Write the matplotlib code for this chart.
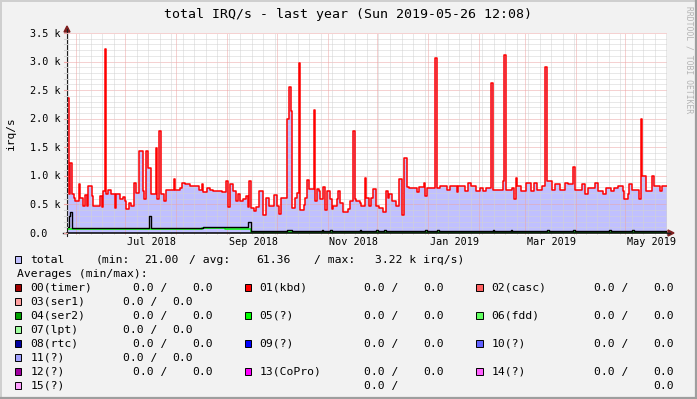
import datetime as dt
import matplotlib
matplotlib.use("Agg")
import matplotlib.pyplot as plt
import matplotlib.dates as mdates
from matplotlib.patches import Rectangle, Polygon
from matplotlib.lines import Line2D
from matplotlib.transforms import blended_transform_factory
import numpy as np

# ---------------- data ----------------
START = dt.datetime(2018, 5, 26, 12, 8)
SPAN_DAYS = 365

# total IRQ/s (step series: day offset from START, value)
total_day = [0, 1, 2, 3, 4, 5, 7, 8, 10, 11, 12, 13, 15, 16, 20, 21, 22, 23, 24, 25,
             27, 29, 30, 32, 34, 35, 36, 38, 39, 41, 42, 44, 46, 47, 48, 49, 51, 54, 55, 56,
             57, 59, 60, 65, 66, 69, 70, 72, 75, 77, 80, 82, 83, 85, 87, 89, 94, 97, 98, 99,
             101, 103, 104, 105, 107, 109, 110, 111, 112, 114, 115, 117, 119, 121, 123, 126, 128, 129, 130, 134,
             135, 136, 137, 139, 140, 141, 142, 144, 145, 146, 147, 150, 151, 152, 153, 154, 156, 157, 158, 160,
             161, 162, 164, 165, 166, 168, 171, 172, 174, 175, 176, 178, 179, 181, 182, 184, 185, 186, 188, 190,
             192, 194, 195, 196, 198, 200, 202, 204, 205, 207, 208, 213, 214, 217, 218, 219, 224, 225, 227, 231,
             233, 237, 238, 242, 244, 246, 249, 251, 253, 255, 258, 259, 265, 266, 267, 271, 272, 273, 274, 276,
             279, 282, 284, 286, 289, 291, 292, 295, 297, 300, 303, 305, 308, 309, 313, 315, 317, 321, 323, 326,
             328, 331, 333, 335, 338, 339, 341, 342, 344, 348, 349, 350, 352, 356, 357, 361, 362]
total_val = [2370, 680, 1230, 680, 620, 560, 850, 620, 480, 660, 480, 820, 650, 480, 650, 450, 730, 3220, 680, 750,
             680, 440, 680, 590, 630, 560, 420, 520, 470, 880, 700, 1440, 730, 590, 1440, 1130, 690, 1480, 590, 1780,
             680, 560, 750, 940, 750, 790, 880, 850, 820, 830, 760, 850, 720, 790, 750, 740, 720, 910, 460, 850,
             730, 560, 680, 560, 590, 650, 460, 910, 440, 380, 460, 730, 320, 620, 470, 660, 470, 330, 620, 2000,
             2560, 2140, 440, 620, 700, 2980, 410, 490, 620, 930, 770, 2160, 560, 770, 740, 590, 800, 400, 740, 590,
             420, 470, 590, 740, 530, 370, 420, 560, 1780, 590, 560, 530, 470, 970, 620, 470, 610, 770, 470, 440,
             360, 740, 610, 680, 560, 470, 950, 310, 1320, 800, 790, 720, 800, 880, 650, 790, 3070, 790, 820, 760,
             820, 710, 820, 740, 880, 820, 740, 790, 740, 790, 2620, 750, 910, 3120, 750, 790, 600, 970, 820, 740,
             880, 740, 880, 760, 820, 2900, 910, 750, 850, 750, 880, 850, 1160, 750, 850, 680, 790, 880, 740, 680,
             790, 740, 790, 820, 740, 590, 680, 850, 760, 590, 2000, 1000, 740, 1000, 820, 740, 820]

# black line near the bottom
black_day = [0, 1, 2, 3, 50, 51, 83, 90, 97, 110, 112, 134, 137, 155, 156, 160, 161, 178, 179, 188,
             189, 193, 194, 218, 219, 225, 226, 259, 260, 270, 271, 292, 293, 308, 309, 330, 331, 344, 345]
black_val = [110, 300, 370, 95, 290, 95, 110, 100, 110, 185, 35, 50, 35, 50, 35, 50, 35, 50, 35, 50,
             35, 50, 35, 50, 35, 50, 35, 50, 35, 50, 35, 50, 35, 50, 35, 50, 35, 50, 35]

# bright green line near the bottom
green_day = [0, 82, 96, 112]
green_val = [75, 95, 75, 18]

y_ticks = [0, 500, 1000, 1500, 2000, 2500, 3000, 3500]
y_tick_labels = ["0.0", "0.5 k", "1.0 k", "1.5 k", "2.0 k", "2.5 k", "3.0 k", "3.5 k"]
x_labels = ["Jul 2018", "Sep 2018", "Nov 2018", "Jan 2019", "Mar 2019", "May 2019"]

total_stats = ("21.00", "61.36", "3.22 k irq/s)")

legend_rows = [
    [("00(timer)", "#A00000"), ("01(kbd)", "#FF0000"), ("02(casc)", "#FF6060")],
    [("03(ser1)", "#FFA0A0")],
    [("04(ser2)", "#00A000"), ("05(?)", "#00FF00"), ("06(fdd)", "#60FF60")],
    [("07(lpt)", "#A0FFA0")],
    [("08(rtc)", "#0000A0"), ("09(?)", "#0000FF"), ("10(?)", "#6060FF")],
    [("11(?)", "#A0A0FF")],
    [("12(?)", "#A000A0"), ("13(CoPro)", "#FF00FF"), ("14(?)", "#FF60FF")],
    [("15(?)", "#FFA0FF")],
]
irq_min = 0.0
irq_max = 0.0

# ---------------- layout helpers ----------------
W, H = 697, 399
MONO = "DejaVu Sans Mono"


def fx(x):
    return x / W


def fy(y):
    return 1 - y / H


fig = plt.figure(figsize=(W / 100, H / 100), dpi=100, facecolor="#F2F2F2")

# 3D shade border
fig.add_artist(Line2D([0, 1], [fy(0.5), fy(0.5)], color="#CFCFCF", lw=1.4, transform=fig.transFigure))
fig.add_artist(Line2D([fx(0.5), fx(0.5)], [0, 1], color="#CFCFCF", lw=1.4, transform=fig.transFigure))
fig.add_artist(Line2D([0, 1], [fy(398), fy(398)], color="#9E9E9E", lw=1.6, transform=fig.transFigure))
fig.add_artist(Line2D([fx(696), fx(696)], [0, 1], color="#9E9E9E", lw=1.6, transform=fig.transFigure))

PLOT_L, PLOT_R, PLOT_T, ZERO_Y, CANVAS_B = 67, 667, 33, 233, 235
ymax = 3500.0
ymin = -ymax * (CANVAS_B - ZERO_Y) / (ZERO_Y - PLOT_T)

ax = fig.add_axes([fx(PLOT_L), fy(CANVAS_B), (PLOT_R - PLOT_L) / W, (CANVAS_B - PLOT_T) / H])
ax.set_facecolor("white")
for s in ax.spines.values():
    s.set_visible(False)

t0 = mdates.date2num(START)


def xs(days):
    return t0 + np.asarray(days, dtype=float)


def step_xy(days, vals):
    d = list(days) + [SPAN_DAYS]
    v = list(vals) + [vals[-1]]
    return xs(d), np.array(v, dtype=float)


tx, tv = step_xy(total_day, total_val)
ax.fill_between(tx, tv, step="post", color="#C0C0FF", lw=0, zorder=1)

# grid
MINOR_C = "#D2D2D2"
MAJOR_C = "#EDA5A5"
dots = (0, (1, 1))
for v in range(100, 3600, 100):
    if v % 500:
        ax.axhline(v, color=MINOR_C, lw=0.72, ls=dots, zorder=2)
for v in y_ticks[1:]:
    ax.axhline(v, color=MAJOR_C, lw=0.72, ls=dots, zorder=2)

end = START + dt.timedelta(days=SPAN_DAYS)
d = dt.datetime(2018, 5, 27)
month_starts = []
m = dt.datetime(START.year, START.month, 1)
while m <= end:
    if m > START:
        month_starts.append(m)
    m = dt.datetime(m.year + (m.month // 12), m.month % 12 + 1, 1)
while d < end:
    if d.day != 1:
        ax.axvline(mdates.date2num(d), color=MINOR_C, lw=0.72, ls=dots, zorder=2)
    d += dt.timedelta(days=7)
for m in month_starts:
    ax.axvline(mdates.date2num(m), color=MAJOR_C, lw=0.72, ls=dots, zorder=2)

# series lines
bx, bv = step_xy(black_day, black_val)
gx, gv = step_xy(green_day, green_val)
ax.step(gx, gv, where="post", color="#00FF00", lw=1.1, zorder=3)
ax.step(bx, bv, where="post", color="#000000", lw=1.0, zorder=3)
ax.step(tx, tv, where="post", color="#FF0000", lw=1.1, zorder=4)

ax.set_xlim(t0, t0 + SPAN_DAYS)
ax.set_ylim(ymin, ymax)
ax.set_xticks([])
ax.set_yticks([])

# axes lines + arrows
AX_C = "#1F1F1F"
ARROW_C = "#7F1F1F"
ax.axhline(0, color="#000000", lw=1.1, zorder=5, clip_on=False)
fig.add_artist(Line2D([fx(PLOT_L), fx(PLOT_L)], [fy(ZERO_Y + 3), fy(29)], color=AX_C, lw=0.8,
                      transform=fig.transFigure))
fig.add_artist(Line2D([fx(63), fx(PLOT_L)], [fy(ZERO_Y), fy(ZERO_Y)], color=AX_C, lw=1.0,
                      transform=fig.transFigure))
fig.add_artist(Line2D([fx(PLOT_R), fx(670)], [fy(ZERO_Y), fy(ZERO_Y)], color=AX_C, lw=1.0,
                      transform=fig.transFigure))
fig.add_artist(Polygon([[fx(64), fy(32)], [fx(70), fy(32)], [fx(67), fy(26)]], closed=True,
                       color=ARROW_C, transform=fig.transFigure))
fig.add_artist(Polygon([[fx(668), fy(230)], [fx(668), fy(236)], [fx(674), fy(233)]], closed=True,
                       color=ARROW_C, transform=fig.transFigure))

# y tick marks
for v in range(0, 3600, 100):
    yy = ZERO_Y - v * (ZERO_Y - PLOT_T) / ymax
    c = MAJOR_C if v % 500 == 0 else MINOR_C
    fig.add_artist(Line2D([fx(64), fx(66.5)], [fy(yy), fy(yy)], color=c, lw=0.8, transform=fig.transFigure))

# y tick labels
for v, lab in zip(y_ticks, y_tick_labels):
    yy = ZERO_Y - v * (ZERO_Y - PLOT_T) / ymax
    fig.text(fx(29.8), fy(yy + 3.6), lab, family=MONO, fontsize=7.3, ha="left", va="baseline")

# x tick labels (centred on mid-month of every second month)
trans_x = blended_transform_factory(ax.transData, fig.transFigure)
for lab in x_labels:
    md = dt.datetime.strptime(lab, "%b %Y") + dt.timedelta(days=16)
    ax.text(mdates.date2num(md), fy(245), lab, family=MONO, fontsize=7.3, ha="center",
            va="baseline", transform=trans_x)

# title / axis label / watermark
fig.text(fx(347.5), fy(17.7), "total IRQ/s - last year (Sun 2019-05-26 12:08)", family=MONO,
         fontsize=9.5, ha="center", va="baseline")
fig.text(fx(11), fy(133), "irq/s", family=MONO, fontsize=8, rotation=90, ha="center", va="center")
fig.text(fx(689), fy(60), "RRDTOOL / TOBI OETIKER", family=MONO, fontsize=5.8, rotation=270,
         ha="center", va="center", color="#B4B4B4")

# legend
LFS = 8.2


def box(x, base, color):
    fig.add_artist(Rectangle((fx(x), fy(base)), 6.4 / W, 7.2 / H, facecolor=color,
                             edgecolor="black", lw=0.7, transform=fig.transFigure))


def txt(x, base, s):
    fig.text(fx(x), fy(base), s, family=MONO, fontsize=LFS, ha="left", va="baseline")


base = 263
box(14.8, base, "#C0C0FF")
txt(30.2, base, "total")
txt(96.0, base, "(min:")
txt(144.5, base, total_stats[0])
txt(189.5, base, "/ avg:")
txt(256.0, base, total_stats[1])
txt(314.5, base, "/ max:")
txt(374.8, base, total_stats[2])
txt(16.8, 277, "Averages (min/max):")

col_box = [14.8, 244.5, 476.5]
col_lab = [30.2, 259.5, 491.2]
col_min = [132.8, 364.5, 594.5]
col_max = [192.2, 423.5, 653.5]
vmin = f"{irq_min:.1f} /"
vmax = f"{irq_max:.1f}"
row_base = [291, 305, 319, 333, 347, 361, 375, 389]
for rb, row in zip(row_base, legend_rows):
    if len(row) == 3:
        for i, (lab, c) in enumerate(row):
            box(col_box[i], rb, c)
            txt(col_lab[i], rb, lab)
            txt(col_min[i], rb, vmin)
            txt(col_max[i], rb, vmax)
    elif rb != row_base[-1]:
        lab, c = row[0]
        box(col_box[0], rb, c)
        txt(col_lab[0], rb, lab)
        txt(122.8, rb, vmin)
        txt(172.2, rb, vmax)
    else:
        lab, c = row[0]
        box(col_box[0], rb, c)
        txt(col_lab[0], rb, lab)
        txt(col_min[1], rb, vmin)
        txt(col_max[2], rb, vmax)

fig.savefig("out.png", dpi=100, facecolor=fig.get_facecolor())
